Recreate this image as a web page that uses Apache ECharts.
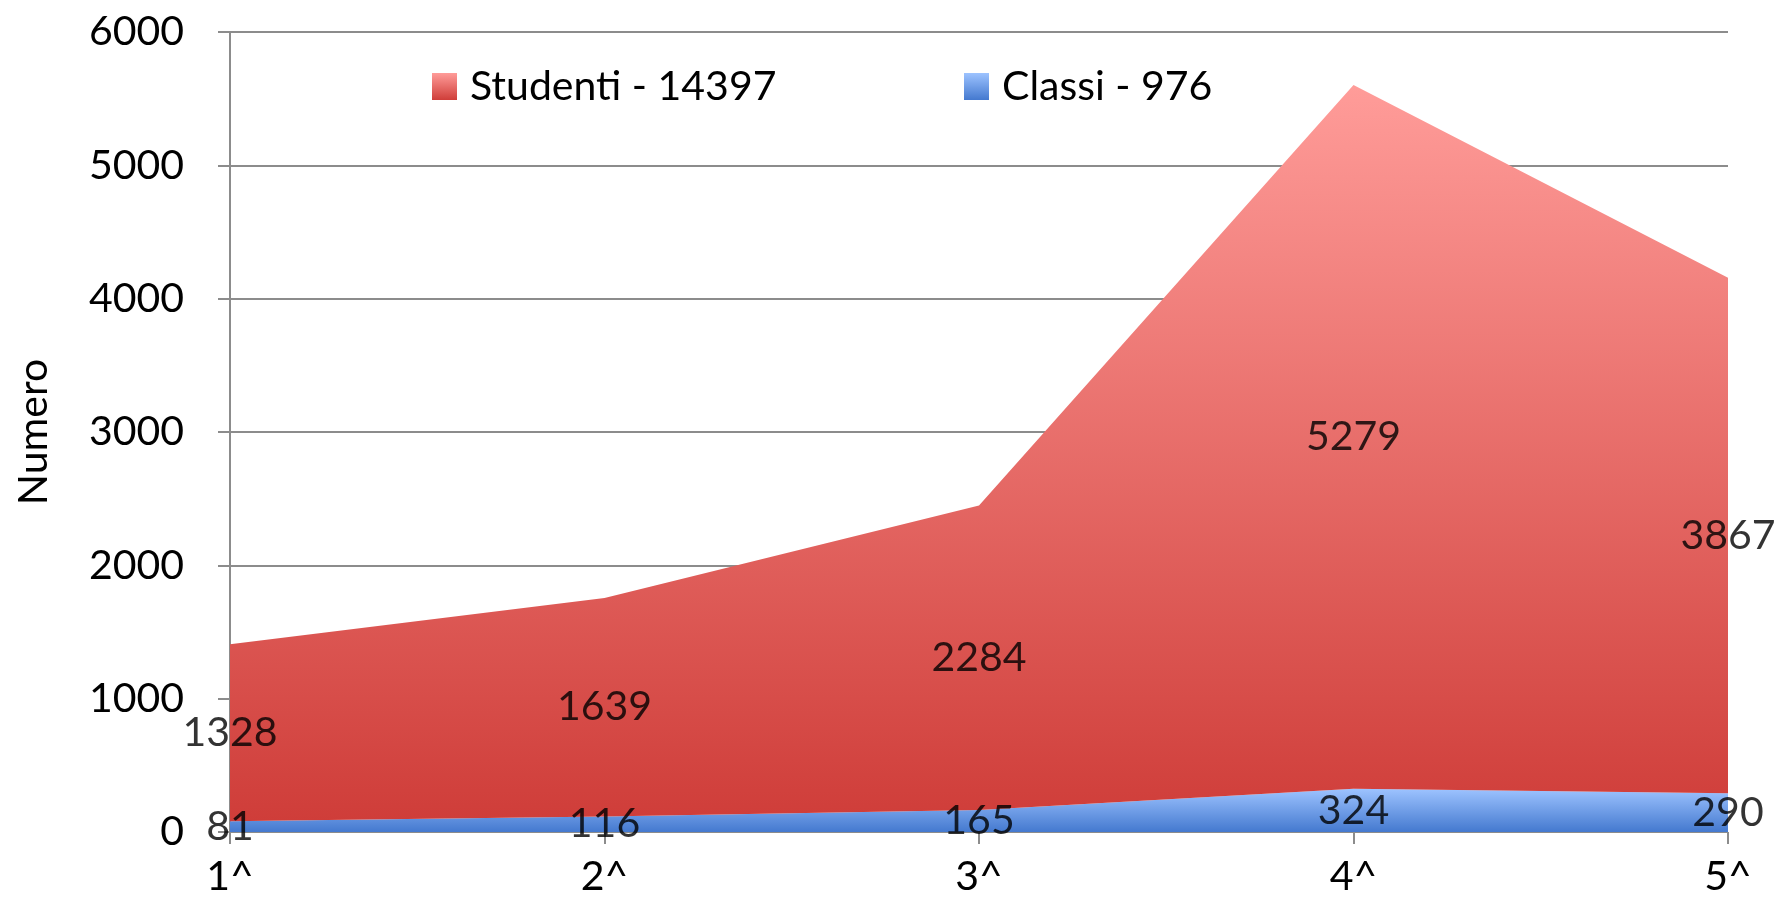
<!DOCTYPE html>
<html>
<head>
<meta charset="utf-8">
<script src="https://cdn.jsdelivr.net/npm/echarts@6/dist/echarts.min.js"></script>
<style>
  html, body { margin: 0; padding: 0; background: #fff; }
  #chart { width: 1780px; height: 913px; }
</style>
</head>
<body>
<div id="chart"></div>
<script>
// data
const categories = ['1^', '2^', '3^', '4^', '5^']
const studenti = [1328, 1639, 2284, 5279, 3867]
const classi = [81, 116, 165, 324, 290]
const yTicks = [0, 1000, 2000, 3000, 4000, 5000, 6000]

const sum = arr => arr.reduce((a, b) => a + b, 0)
const nameStudenti = 'Studenti - ' + sum(studenti)
const nameClassi = 'Classi - ' + sum(classi)

const FONT = 'Lato'

const redGrad = new echarts.graphic.LinearGradient(0, 0, 0, 1, [
  { offset: 0, color: '#ff9c99' },
  { offset: 1, color: '#cf3d39' }
])
const blueGrad = new echarts.graphic.LinearGradient(0, 0, 0, 1, [
  { offset: 0, color: '#9dc3ff' },
  { offset: 1, color: '#4479cf' }
])

// label anchors in the middle of each band
const classiMid = classi.map(v => v / 2)
const studentiMid = studenti.map((v, i) => classi[i] + v / 2)

const labelStyle = {
  show: true,
  position: 'inside',
  color: '#000',
  fontFamily: FONT,
  fontSize: 41
}

const chart = echarts.init(document.getElementById('chart'))

const legendText = { fontFamily: FONT, fontSize: 41, color: '#000', padding: [0, 0, 0, 8] }

const option = {
  animation: false,
  grid: { left: 230, right: 52, top: 32, bottom: 81 },
  legend: [
    {
      data: [{ name: nameStudenti, itemStyle: { color: redGrad } }],
      left: 427, top: 61,
      itemWidth: 25, itemHeight: 27,
      icon: 'rect',
      textStyle: legendText
    },
    {
      data: [{ name: nameClassi, itemStyle: { color: blueGrad } }],
      left: 959, top: 61,
      itemWidth: 25, itemHeight: 27,
      icon: 'rect',
      textStyle: legendText
    }
  ],
  xAxis: {
    type: 'category',
    data: categories,
    boundaryGap: false,
    axisLine: { show: false },
    axisTick: { show: true, length: 12, lineStyle: { color: '#8c8c8c', width: 2 } },
    axisLabel: { fontFamily: FONT, fontSize: 41, color: '#000', margin: 24 }
  },
  yAxis: {
    type: 'value',
    min: yTicks[0],
    max: yTicks[yTicks.length - 1],
    interval: 1000,
    name: 'Numero',
    nameLocation: 'middle',
    nameGap: 176,
    nameTextStyle: { fontFamily: FONT, fontSize: 41, color: '#000' },
    axisLine: { show: true, lineStyle: { color: '#8c8c8c', width: 2 } },
    axisTick: { show: true, length: 12, lineStyle: { color: '#8c8c8c', width: 2 } },
    axisLabel: {
      fontFamily: FONT, fontSize: 41, color: '#000', margin: 46,
      formatter: v => String(v)
    },
    splitLine: { lineStyle: { color: '#8c8c8c', width: 2 } }
  },
  series: [
    {
      name: nameClassi,
      type: 'line',
      stack: 'total',
      data: classi,
      symbol: 'none',
      lineStyle: { width: 0 },
      itemStyle: { color: blueGrad },
      areaStyle: { color: blueGrad, opacity: 1 }
    },
    {
      name: nameStudenti,
      type: 'line',
      stack: 'total',
      data: studenti,
      symbol: 'none',
      lineStyle: { width: 0 },
      itemStyle: { color: redGrad },
      areaStyle: { color: redGrad, opacity: 1 }
    },
    {
      type: 'scatter',
      data: classiMid,
      symbolSize: 1,
      itemStyle: { color: 'rgba(0,0,0,0)' },
      label: Object.assign({}, labelStyle, { formatter: p => classi[p.dataIndex] }),
      z: 5
    },
    {
      type: 'scatter',
      data: studentiMid,
      symbolSize: 1,
      itemStyle: { color: 'rgba(0,0,0,0)' },
      label: Object.assign({}, labelStyle, { formatter: p => studenti[p.dataIndex] }),
      z: 5
    }
  ]
}

chart.setOption(option)
</script>
</body>
</html>
